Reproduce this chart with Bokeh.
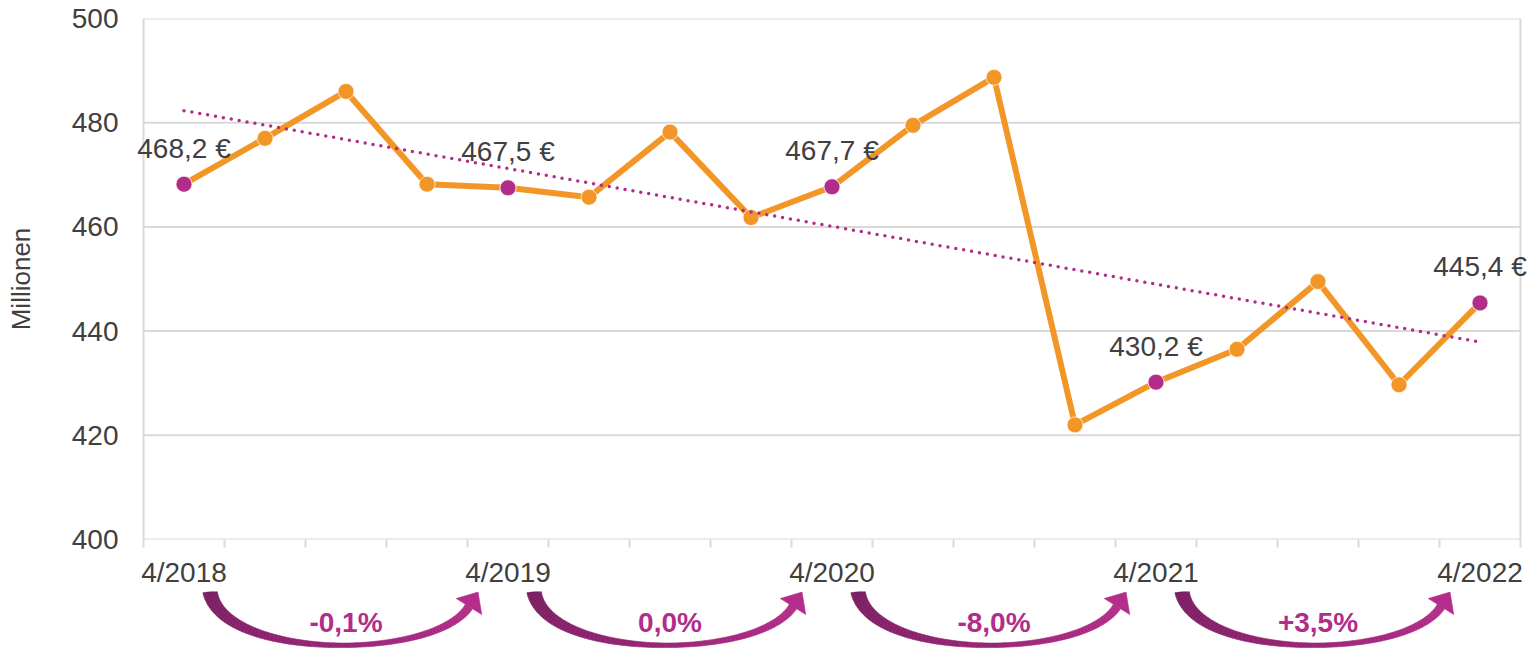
import numpy as np
from bokeh.plotting import figure
from bokeh.layouts import column
from bokeh.models import Range1d, FixedTicker, Label
from bokeh.core.properties import value
from bokeh.embed import file_html
from bokeh.resources import INLINE

# ---------------- data ----------------
quarters = ["4/2018", "1/2019", "2/2019", "3/2019", "4/2019", "1/2020", "2/2020", "3/2020",
            "4/2020", "1/2021", "2/2021", "3/2021", "4/2021", "1/2022", "2/2022", "3/2022", "4/2022"]
values = [468.2, 477.0, 486.0, 468.2, 467.5, 465.7, 478.2, 461.8, 467.7,
          479.5, 488.7, 422.0, 430.2, 436.5, 449.5, 429.7, 445.4]
highlight_idx = [0, 4, 8, 12, 16]
tick_labels = ["4/2018", "4/2019", "4/2020", "4/2021", "4/2022"]
pct_labels = ["-0,1%", "0,0%", "-8,0%", "+3,5%"]
y_ticks = [400, 420, 440, 460, 480, 500]
y_title = "Millionen"

# ---------------- style / layout ----------------
FONT = "Liberation Sans"
TXT = "#404040"
GRID = "#D9D9D9"
ORANGE = "#F39628"
MAGENTA = "#B22D89"

W = 1532
BOX_L, BOX_R = 143, 1520          # visible plot box (px)
BL, BR = 128, 0                   # real frame borders (wider frame so labels are not clipped)
H1, BT, BB = 591, 18, 52
H2 = 57

n = len(values)
S = (BOX_R - BOX_L) / n           # px per category
x_lo, x_hi = -0.5, n - 0.5
x_start = x_lo - (BOX_L - BL) / S
x_end = x_hi + ((W - BR) - BOX_R) / S

xs = list(range(n))

p = figure(width=W, height=H1, x_range=Range1d(x_start, x_end),
           y_range=Range1d(y_ticks[0], y_ticks[-1]),
           output_backend="svg", toolbar_location=None,
           min_border_left=BL, min_border_right=BR, min_border_top=BT, min_border_bottom=BB)
p.outline_line_color = None
p.background_fill_color = "white"
p.border_fill_color = "white"
p.xgrid.grid_line_color = None
p.ygrid.grid_line_color = None

# manual grid lines and box
p.segment(x0=[x_lo] * len(y_ticks), x1=[x_hi] * len(y_ticks), y0=y_ticks, y1=y_ticks,
          line_color=GRID, line_width=2)
p.segment(x0=[x_lo, x_hi], x1=[x_lo, x_hi], y0=[y_ticks[0]] * 2, y1=[y_ticks[-1]] * 2,
          line_color=GRID, line_width=2)

p.yaxis.ticker = FixedTicker(ticks=y_ticks)
ya = p.yaxis[0]
ya.axis_line_color = None
ya.major_tick_out = 0
ya.major_tick_in = 0
ya.minor_tick_out = 0
ya.minor_tick_in = 0
ya.major_label_text_font = FONT
ya.major_label_text_font_size = "28px"
ya.major_label_text_color = TXT
ya.major_label_standoff = 25 - (BOX_L - BL)
ya.axis_label = y_title
ya.axis_label_text_font = FONT
ya.axis_label_text_font_size = "26px"
ya.axis_label_text_font_style = "normal"
ya.axis_label_text_color = TXT
ya.axis_label_standoff = 33

xa = p.xaxis[0]
xa.ticker = FixedTicker(ticks=highlight_idx, minor_ticks=[i - 0.5 for i in range(n + 1)])
xa.major_label_overrides = {i: t for i, t in zip(highlight_idx, tick_labels)}
xa.major_tick_out = 0
xa.major_tick_in = 0
xa.minor_tick_out = 8
xa.minor_tick_in = 0
xa.minor_tick_line_color = GRID
xa.minor_tick_line_width = 2
xa.axis_line_color = None
xa.major_label_text_font = FONT
xa.major_label_text_font_size = "28px"
xa.major_label_text_color = TXT
xa.major_label_standoff = 9

# main series
p.line(xs, values, line_color=ORANGE, line_width=6, line_join="round")
p.scatter(xs, values, size=16, fill_color=ORANGE, line_color="white", line_width=1, line_alpha=0.7)

# trend line (linear regression of the series)
coef = np.polyfit(xs, values, 1)
trend = np.polyval(coef, xs)
p.line(xs, trend, line_color=MAGENTA, line_width=3.5, line_dash="0 8", line_cap="round")

hx = highlight_idx
hy = [values[i] for i in hx]
p.scatter(hx, hy, size=16, fill_color=MAGENTA, line_color="white", line_width=1, line_alpha=0.7)

for x, y in zip(hx, hy):
    p.add_layout(Label(x=x, y=y, text=f"{y:.1f}".replace(".", ",") + " €",
                       text_align="center", text_baseline="alphabetic", y_offset=36,
                       text_font=FONT, text_font_size="28px", text_color=TXT))

# ---------------- arrows row ----------------
p2 = figure(width=W, height=H2, x_range=p.x_range, y_range=Range1d(H1 + H2, H1),
            output_backend="svg", toolbar_location=None,
            x_axis_location=None, y_axis_location=None,
            min_border_left=BL, min_border_right=BR, min_border_top=0, min_border_bottom=0)
p2.grid.grid_line_color = None
p2.outline_line_color = None
p2.background_fill_color = "white"
p2.border_fill_color = "white"

c0 = np.array([122, 30, 98])
c1 = np.array([181, 45, 138])


def hexcol(c):
    return "#%02x%02x%02x" % tuple(int(round(v)) for v in c)


seg_xs, seg_ys, seg_cols = [], [], []
head_xs, head_ys = [], []
for k in range(len(highlight_idx) - 1):
    a, b = highlight_idx[k], highlight_idx[k + 1]
    x0 = 26.0
    L = (b - a) * S - 56.0
    P = np.array([[x0, 591.0], [x0 + 12, 660.0], [x0 + 0.84 * L, 660.0], [x0 + L - 9, 606.0]])
    t = np.linspace(0, 1, 80)
    B = ((1 - t) ** 3)[:, None] * P[0] + (3 * (1 - t) ** 2 * t)[:, None] * P[1] + \
        (3 * (1 - t) * t ** 2)[:, None] * P[2] + (t ** 3)[:, None] * P[3]
    D = (3 * (1 - t) ** 2)[:, None] * (P[1] - P[0]) + (6 * (1 - t) * t)[:, None] * (P[2] - P[1]) + \
        (3 * t ** 2)[:, None] * (P[3] - P[2])
    D = D / np.linalg.norm(D, axis=1)[:, None]
    N = np.stack([-D[:, 1], D[:, 0]], axis=1)
    tm = 0.55
    w = np.where(t < tm, 4.5 + 10.0 * ((tm - t) / tm) ** 1.5, 4.5 + 4.0 * ((t - tm) / (1 - tm)) ** 1.5)
    Lp = B + N * (w / 2)[:, None]
    Rp = B - N * (w / 2)[:, None]
    for i in range(len(t) - 1):
        px = [Lp[i, 0], Lp[i + 1, 0], Rp[i + 1, 0], Rp[i, 0]]
        py = [Lp[i, 1], Lp[i + 1, 1], Rp[i + 1, 1], Rp[i, 1]]
        seg_xs.append([a + v / S for v in px])
        seg_ys.append(py)
        seg_cols.append(hexcol(c0 + (c1 - c0) * (t[i] + t[i + 1]) / 2))
    d = D[-1]
    nn = N[-1]
    base = B[-1]
    tip = base + d * 17
    hl = base + nn * 15
    hr = base - nn * 15
    head_xs.append([a + v / S for v in [hl[0], tip[0], hr[0]]])
    head_ys.append([hl[1], tip[1], hr[1]])

p2.patches(seg_xs, seg_ys, fill_color=seg_cols, line_color=seg_cols, line_width=0.6)
p2.patches(head_xs, head_ys, fill_color=hexcol(c1), line_color=hexcol(c1), line_width=0.6)

mid_x = [(highlight_idx[k] + highlight_idx[k + 1]) / 2 for k in range(len(pct_labels))]
p2.text(x=mid_x, y=[622] * len(mid_x), text=pct_labels, text_align="center",
        text_baseline="middle", text_font=value(FONT), text_font_size="28px",
        text_font_style="bold", text_color=MAGENTA)

layout = column(p, p2, spacing=0)
open("out.html", "w").write(file_html(layout, INLINE))
